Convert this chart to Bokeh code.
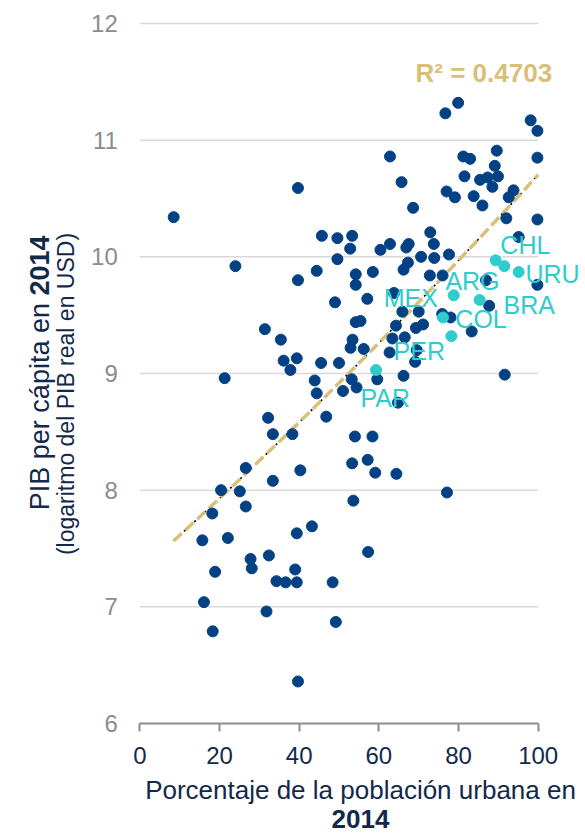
import numpy as np
from bokeh.plotting import figure
from bokeh.models import Range1d, FixedTicker, Label
from bokeh.embed import file_html
from bokeh.resources import INLINE

# ---------------- data ----------------
urban_pct = [8.5, 39.7, 45.7, 49.6, 53.3, 52.8, 49.6, 24.0, 44.4, 39.7, 49.0,
             79.9, 76.7, 98.1, 99.8, 62.8, 81.2, 82.9, 89.6, 99.8, 89.1, 81.5,
             87.3, 89.9, 85.4, 65.7, 88.5, 77.0, 93.8, 79.1, 83.8, 92.6, 86.0,
             68.6, 92.0, 99.8, 95.1, 62.8, 60.4, 66.9, 67.5, 72.9, 73.8, 70.6,
             73.9, 77.6, 67.3, 66.2, 54.2, 58.5, 54.2, 72.8, 76.0, 86.9, 99.8,
             57.1, 63.8, 87.7, 65.9, 70.0, 75.9, 78.0, 54.2, 55.4, 64.3, 71.1,
             69.3, 83.3, 63.4, 66.5, 53.4, 52.9, 56.2, 62.7, 69.5, 69.1, 66.2,
             53.2, 59.6, 51.0, 54.4, 91.6, 64.8, 54.0, 58.4, 53.3, 57.2, 59.1,
             64.4, 77.1, 53.6, 31.4, 35.4, 36.1, 39.4, 45.5, 50.0, 37.8, 21.3,
             43.9, 44.4, 32.2, 33.4, 38.3, 46.8, 26.6, 40.3, 33.4, 20.4, 25.1,
             26.6, 18.2, 15.7, 22.1, 39.4, 43.2, 27.8, 32.4, 28.1, 18.9, 39.0,
             34.3, 36.6, 39.4, 48.4, 16.1, 31.8, 49.2, 18.3, 39.7, 57.3]
log_gdp = [10.34, 10.59, 10.18, 10.16, 10.18, 10.07, 9.98, 9.92, 9.88, 9.80, 9.61,
           11.32, 11.23, 11.17, 11.08, 10.86, 10.86, 10.84, 10.91, 10.85, 10.78, 10.69,
           10.68, 10.69, 10.66, 10.64, 10.60, 10.56, 10.57, 10.51, 10.52, 10.51, 10.44,
           10.42, 10.33, 10.32, 10.17, 10.11, 10.06, 10.08, 10.11, 10.21, 10.11, 10.00,
           9.99, 10.02, 9.95, 9.89, 9.85, 9.87, 9.76, 9.84, 9.84, 9.80, 9.76,
           9.64, 9.69, 9.58, 9.53, 9.53, 9.51, 9.48, 9.44, 9.45, 9.41, 9.42,
           9.39, 9.36, 9.30, 9.31, 9.29, 9.22, 9.21, 9.18, 9.20, 9.10, 8.98,
           8.95, 8.95, 8.85, 8.88, 8.99, 8.75, 8.46, 8.46, 8.23, 8.26, 8.15,
           8.14, 7.98, 7.91, 9.38, 9.29, 9.11, 9.13, 9.09, 9.09, 9.03, 8.96,
           8.94, 8.83, 8.62, 8.48, 8.48, 8.63, 8.19, 8.17, 8.08, 8.00, 7.99,
           7.86, 7.80, 7.57, 7.59, 7.63, 7.69, 7.41, 7.44, 7.33, 7.30, 7.32,
           7.22, 7.21, 7.21, 7.21, 7.04, 6.96, 6.87, 6.79, 6.36, 7.47]

lac_codes = ["CHL", "ARG", "URU", "MEX", "BRA", "COL", "PER", "PAR"]
lac_urban = [89.3, 91.5, 95.1, 78.8, 85.3, 76.1, 78.2, 59.3]
lac_gdp = [9.97, 9.92, 9.87, 9.67, 9.63, 9.48, 9.32, 9.03]

trend_coef = [3.4e-5, 0.0306, 7.3035]   # quadratic trend, highest power first
trend_x_span = [8.5, 100.0]
r_squared = 0.4703

x_ticks = [0, 20, 40, 60, 80, 100]
y_ticks = [6, 7, 8, 9, 10, 11, 12]

# ---------------- layout / style ----------------
# label anchor positions (left, baseline) for the country codes
lac_label_x = [90.5, 76.7, 96.8, 61.2, 91.3, 79.2, 63.7, 55.4]
lac_label_y = [10.10, 9.79, 9.85, 9.65, 9.59, 9.47, 9.19, 8.79]

FONT = "Liberation Sans"
NAVY = "#034185"
CYAN = "#2ECCCC"
TAN = "#D9BF77"
TEXT_NAVY = "#13294B"
GRAY = "#8C8C8C"

W, H = 585, 833
# the plotting frame covers the whole canvas, so texts outside the data area are not clipped
p = figure(
    width=W, height=H,
    x_range=Range1d(-34.964, 111.87), y_range=Range1d(5.057, 12.197),
    output_backend="svg", toolbar_location=None,
    min_border=0, min_border_left=0, min_border_right=0,
    min_border_top=0, min_border_bottom=0,
    background_fill_color="white", border_fill_color="white",
)
p.outline_line_color = None
p.xgrid.visible = False
p.ygrid.visible = False

# horizontal gridlines limited to 0..100
grid_y = [t for t in y_ticks if t > y_ticks[0]]
p.segment(x0=[x_ticks[0]] * len(grid_y), x1=[x_ticks[-1]] * len(grid_y),
          y0=grid_y, y1=grid_y, line_color="#D9D9D9", line_width=1.5)

# x axis, fixed at y = 6
xa = p.xaxis[0]
xa.fixed_location = y_ticks[0]
xa.ticker = FixedTicker(ticks=x_ticks)
xa.bounds = (x_ticks[0], x_ticks[-1])
xa.axis_line_color = "#8C8C8C"
xa.axis_line_width = 2
xa.major_tick_line_color = "#8C8C8C"
xa.major_tick_line_width = 2
xa.major_tick_out = 8
xa.major_tick_in = 0
xa.minor_tick_line_color = None
xa.major_label_text_font = FONT
xa.major_label_text_font_size = "24px"
xa.major_label_text_color = TEXT_NAVY
xa.major_label_standoff = 16

# y axis, fixed at x = 0
ya = p.yaxis[0]
ya.fixed_location = x_ticks[0]
ya.ticker = FixedTicker(ticks=y_ticks)
ya.bounds = (y_ticks[0], y_ticks[-1])
ya.axis_line_color = None
ya.major_tick_line_color = None
ya.minor_tick_line_color = None
ya.major_tick_out = 0
ya.major_tick_in = 0
ya.major_label_text_font = FONT
ya.major_label_text_font_size = "24px"
ya.major_label_text_color = GRAY
ya.major_label_standoff = 22

# trend line
tx = np.linspace(trend_x_span[0], trend_x_span[1], 200)
ty = np.polyval(trend_coef, tx)
p.line(tx, ty, line_color="black", line_width=1.6, line_dash="2 5")
p.line(tx, ty, line_color=TAN, line_width=3.5, line_dash="11 5")

# scatter
p.scatter(urban_pct, log_gdp, size=11, fill_color=NAVY, line_color=NAVY)
p.scatter(lac_urban, lac_gdp, size=11, fill_color=CYAN, line_color=CYAN)

for code, lx, ly in zip(lac_codes, lac_label_x, lac_label_y):
    p.add_layout(Label(x=lx, y=ly, text=code, text_font=FONT,
                       text_font_size="25px", text_color=CYAN,
                       text_align="left", text_baseline="alphabetic"))

p.add_layout(Label(x=69.2, y=11.574, text="R² = %.4f" % r_squared,
                   text_font=FONT, text_font_size="26px", text_font_style="bold",
                   text_color=TAN, text_align="left", text_baseline="alphabetic"))

# y axis title (rotated, mixed weight)
p.add_layout(Label(x=-25.17, y=9.668, text="PIB per cápita en ", angle=np.pi / 2,
                   text_font=FONT, text_font_size="27px", text_color=TEXT_NAVY,
                   text_align="right", text_baseline="middle"))
p.add_layout(Label(x=-25.17, y=9.668, text="2014", angle=np.pi / 2,
                   text_font=FONT, text_font_size="27px", text_color=TEXT_NAVY,
                   text_font_style="bold",
                   text_align="left", text_baseline="middle"))
p.add_layout(Label(x=-18.40, y=8.824, text="(logaritmo del PIB real en USD)",
                   angle=np.pi / 2, text_font=FONT, text_font_size="23px",
                   text_color=TEXT_NAVY, text_align="center", text_baseline="middle"))

# x axis title
p.add_layout(Label(x=55.4, y=5.430, text="Porcentaje de la población urbana en",
                   text_font=FONT, text_font_size="26px", text_color=TEXT_NAVY,
                   text_align="center", text_baseline="alphabetic"))
p.add_layout(Label(x=55.4, y=5.180, text="2014",
                   text_font=FONT, text_font_size="26px", text_color=TEXT_NAVY,
                   text_font_style="bold",
                   text_align="center", text_baseline="alphabetic"))

open("out.html", "w").write(file_html(p, INLINE))
